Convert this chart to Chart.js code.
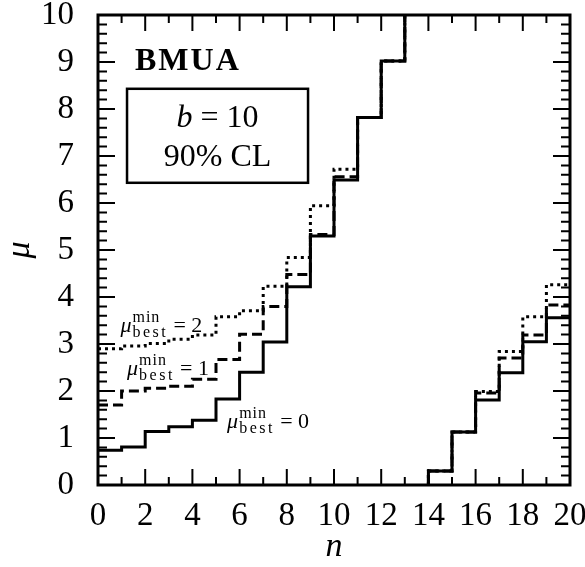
<!DOCTYPE html>
<html>
<head>
<meta charset="utf-8">
<script src="https://cdn.jsdelivr.net/npm/chart.js@4/dist/chart.umd.min.js"></script>
<style>
  html, body { margin:0; padding:0; background:#fff; }
  #c { display:block; }
</style>
</head>
<body>
<canvas id="c" width="585" height="567"></canvas>
<script>
/* step curves: value holds from n to n+1 */
const nLow = [0, 1, 2, 3, 4, 5, 6, 7, 8, 9, 10, 11, 12, 13];
const solidLow = [0.74, 0.81, 1.14, 1.24, 1.38, 1.83, 2.40, 3.04, 4.22, 5.30, 6.49, 7.82, 9.02, 10];
const dashLow  = [1.70, 2.00, 2.06, 2.10, 2.25, 2.67, 3.21, 3.80, 4.48, 5.33, 6.56, 7.82, 9.02, 10];
const dotLow   = [2.90, 2.96, 3.01, 3.10, 3.19, 3.58, 3.71, 4.23, 4.84, 5.94, 6.72, 7.82, 9.02, 10];

const nHigh = [14, 14, 15, 16, 17, 18, 19, 20];
const solidHigh = [0, 0.30, 1.13, 1.81, 2.39, 3.05, 3.56, 3.56];
const dashHigh  = [0, 0.30, 1.13, 1.96, 2.70, 3.19, 3.83, 3.83];
const dotHigh   = [0, 0.30, 1.13, 1.99, 2.84, 3.58, 4.26, 4.26];

const xTicks = [0, 2, 4, 6, 8, 10, 12, 14, 16, 18, 20];
const yTicks = [0, 1, 2, 3, 4, 5, 6, 7, 8, 9, 10];

const curveLabels = [
  { text:'2', n:0.95, mu:3.25 },
  { text:'1', n:1.23, mu:2.34 },
  { text:'0', n:5.47, mu:1.21 },
];

const SERIF = '"Liberation Serif", "DejaVu Serif", serif';
const pts = (xs, ys) => xs.map((x, i) => ({ x, y: ys[i] }));

function stepSet(data, dash, order) {
  return { data, borderColor:'#000', borderWidth:3, borderDash:dash, borderCapStyle:'butt',
           pointRadius:0, stepped:'before', fill:false, order, clip:false };
}

// frame, inward ticks on all four sides, text annotations
const decor = {
  id:'decor',
  afterDraw(chart) {
    const { ctx, chartArea:a, scales:{ x, y } } = chart;
    ctx.save();
    ctx.strokeStyle = '#000';
    ctx.lineWidth = 2;
    for (let n = 0; n <= 20; n++) {
      const px = x.getPixelForValue(n);
      const len = n % 2 === 0 ? 16 : 8;
      ctx.beginPath();
      ctx.moveTo(px, a.bottom); ctx.lineTo(px, a.bottom - len);
      ctx.moveTo(px, a.top); ctx.lineTo(px, a.top + len);
      ctx.stroke();
    }
    for (let k = 0; k <= 50; k++) {
      const py = y.getPixelForValue(k / 5);
      const len = k % 5 === 0 ? 17 : 9;
      ctx.beginPath();
      ctx.moveTo(a.left, py); ctx.lineTo(a.left + len, py);
      ctx.moveTo(a.right, py); ctx.lineTo(a.right - len, py);
      ctx.stroke();
    }
    ctx.lineWidth = 3;
    ctx.strokeRect(a.left, a.top, a.right - a.left, a.bottom - a.top);

    ctx.fillStyle = '#000';
    ctx.textBaseline = 'alphabetic';
    ctx.textAlign = 'left';
    ctx.font = `bold 32px ${SERIF}`;
    ctx.letterSpacing = '2px';
    ctx.fillText('BMUA', 135, 70);
    ctx.letterSpacing = '0px';

    // info box
    const bx0 = x.getPixelForValue(1.23), bx1 = x.getPixelForValue(8.9);
    const by0 = y.getPixelForValue(8.43), by1 = y.getPixelForValue(6.43);
    ctx.lineWidth = 2.5;
    ctx.strokeRect(bx0, by0, bx1 - bx0, by1 - by0);
    const cx = (bx0 + bx1) / 2;
    ctx.font = `italic 32px ${SERIF}`;
    const bw = ctx.measureText('b').width;
    ctx.font = `32px ${SERIF}`;
    const rest = ' = 10';
    const rw = ctx.measureText(rest).width;
    ctx.font = `italic 32px ${SERIF}`;
    ctx.fillText('b', cx - (bw + rw) / 2, 127);
    ctx.font = `32px ${SERIF}`;
    ctx.fillText(rest, cx - (bw + rw) / 2 + bw, 127);
    ctx.textAlign = 'center';
    ctx.fillText('90% CL', cx, 166);

    // curve labels
    curveLabels.forEach((l) => {
      const px = x.getPixelForValue(l.n), py = y.getPixelForValue(l.mu);
      ctx.textAlign = 'left';
      ctx.font = `italic 22px ${SERIF}`;
      ctx.fillText('μ', px, py);
      const mw = ctx.measureText('μ').width;
      ctx.font = `16px ${SERIF}`;
      ctx.letterSpacing = '1px';
      ctx.fillText('min', px + mw + 1, py - 10);
      ctx.letterSpacing = '2.5px';
      ctx.fillText('best', px + mw + 1, py + 5);
      ctx.letterSpacing = '0px';
      ctx.font = `22px ${SERIF}`;
      ctx.fillText('= ' + l.text, px + mw + 42, py);
    });
    ctx.restore();
  }
};

new Chart(document.getElementById('c'), {
  type:'line',
  data:{ datasets:[
    stepSet(pts(nLow, solidLow), [], 0),
    stepSet(pts(nLow, dashLow), [10, 5], 1),
    stepSet(pts(nLow, dotLow), [3, 4], 2),
    stepSet(pts(nHigh, solidHigh), [], 0),
    stepSet(pts(nHigh, dashHigh), [10, 5], 1),
    stepSet(pts(nHigh, dotHigh), [3, 4], 2),
  ]},
  options:{
    responsive:false, animation:false, devicePixelRatio:1,
    layout:{ padding:{ left:0, right:15, top:15, bottom:0 } },
    plugins:{ legend:{ display:false }, tooltip:{ enabled:false } },
    scales:{
      x:{ type:'linear', min:0, max:20,
          afterBuildTicks:(s) => { s.ticks = xTicks.map((v) => ({ value:v })); },
          afterFit:(s) => { s.height = 82; s.paddingLeft = 0; s.paddingRight = 0; },
          grid:{ display:false }, border:{ display:false },
          ticks:{ color:'#000', padding:4, maxRotation:0, autoSkip:false, font:{ family:SERIF, size:33 } },
          title:{ display:true, text:'n', color:'#000', padding:{ top:0, bottom:0 }, font:{ family:SERIF, size:34, style:'italic' } } },
      y:{ type:'linear', min:0, max:10,
          afterBuildTicks:(s) => { s.ticks = yTicks.map((v) => ({ value:v })); },
          afterFit:(s) => { s.width = 98; s.paddingTop = 0; s.paddingBottom = 0; },
          grid:{ display:false }, border:{ display:false },
          ticks:{ color:'#000', padding:16, autoSkip:false, font:{ family:SERIF, size:33 } },
          title:{ display:true, text:'μ', color:'#000', padding:{ top:0, bottom:0 }, font:{ family:SERIF, size:34, style:'italic' } } },
    }
  },
  plugins:[decor]
});
</script>
</body>
</html>
